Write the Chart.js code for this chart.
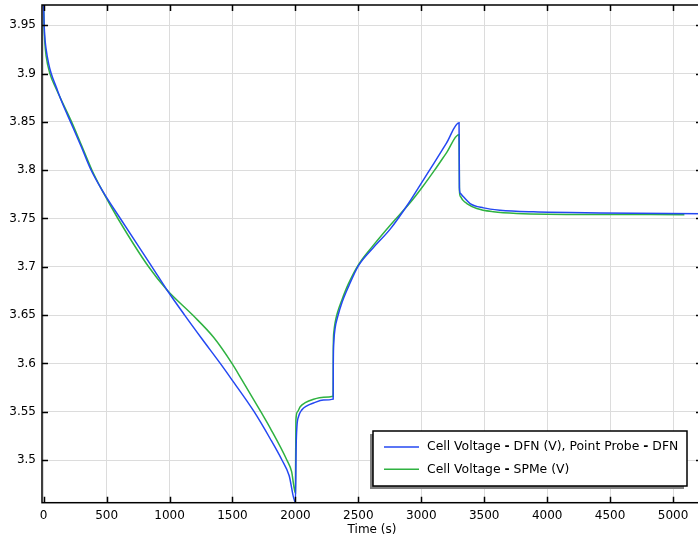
<!DOCTYPE html>
<html>
<head>
<meta charset="utf-8">
<script src="https://cdn.jsdelivr.net/npm/chart.js@4.4.1/dist/chart.umd.min.js"></script>
<style>
html, body { margin: 0; padding: 0; background: #fff; overflow: hidden; }
canvas { display: block; }
</style>
</head>
<body>
<canvas id="voltageChart" width="704" height="539"></canvas>
<script>
// Data
const seriesLabels = ['Cell Voltage - DFN (V), Point Probe - DFN', 'Cell Voltage - SPMe (V)'];
const xTickValues = [0, 500, 1000, 1500, 2000, 2500, 3000, 3500, 4000, 4500, 5000];
const yTickValues = [3.5, 3.55, 3.6, 3.65, 3.7, 3.75, 3.8, 3.85, 3.9, 3.95];

const timeDfn = [0, 3, 8, 20, 40, 60, 100, 150, 217, 300, 370, 464, 609, 861, 980, 1120, 1260, 1403, 1496, 1672, 1800, 1893, 1950, 2000,
  2006, 2012, 2025, 2052, 2091, 2144, 2223, 2300,
  2301, 2305, 2316, 2335, 2370, 2420, 2500, 2620, 2753, 2898, 3017, 3100, 3200, 3300,
  3303, 3310, 3335, 3388, 3494, 3626, 3891, 4420, 5230];
const voltDfn = [3.972, 3.955, 3.94, 3.925, 3.91, 3.9, 3.886, 3.869, 3.849, 3.824, 3.802, 3.7793, 3.75, 3.70, 3.676, 3.65, 3.625, 3.60, 3.583, 3.55, 3.522, 3.50, 3.484, 3.456,
  3.514, 3.5345, 3.545, 3.552, 3.556, 3.559, 3.562, 3.563,
  3.60, 3.622, 3.637, 3.648, 3.663, 3.679, 3.701, 3.72, 3.739, 3.7655, 3.79, 3.807, 3.828, 3.849,
  3.782, 3.776, 3.7724, 3.7655, 3.761, 3.7586, 3.7569, 3.7558, 3.755];

const timeSpme = [0, 3, 8, 20, 50, 100, 150, 222, 300, 384, 464, 590, 834, 980, 1184, 1350, 1496, 1575, 1725, 1800, 1932, 1970, 2000,
  2004, 2017, 2038, 2078, 2144, 2223, 2300,
  2301, 2305, 2315, 2335, 2370, 2420, 2500, 2620, 2753, 2911, 3000, 3100, 3200, 3300,
  3303, 3310, 3330, 3362, 3441, 3573, 3759, 4420, 5090];
const voltSpme = [3.972, 3.952, 3.935, 3.918, 3.9, 3.884, 3.870, 3.85, 3.826, 3.80, 3.7793, 3.75, 3.70, 3.676, 3.65, 3.627, 3.60, 3.583, 3.55, 3.533, 3.50, 3.488, 3.4655,
  3.5414, 3.55, 3.5551, 3.5593, 3.5628, 3.5649, 3.5659,
  3.615, 3.632, 3.642, 3.653, 3.666, 3.682, 3.702, 3.7224, 3.7431, 3.7662, 3.781, 3.799, 3.818, 3.837,
  3.779, 3.773, 3.769, 3.7655, 3.7603, 3.7569, 3.7552, 3.7541, 3.754];

const seriesColors = ['#2448f2', '#2fb241'];
const FONT = 'DejaVu Sans';

function toPoints(xs, ys) {
  return xs.map((x, i) => ({ x: x, y: ys[i] }));
}

// Frame with inward tick marks on all four sides
const framePlugin = {
  id: 'frame',
  afterDatasetsDraw(chart) {
    const c = chart.ctx;
    const a = chart.chartArea;
    const tl = 6;
    c.save();
    c.strokeStyle = '#000';
    c.lineWidth = 1.5;
    c.strokeRect(a.left, a.top, a.right - a.left, a.bottom - a.top);
    c.beginPath();
    chart.scales.x.ticks.forEach(t => {
      const px = Math.round(chart.scales.x.getPixelForValue(t.value)) + 0.5;
      c.moveTo(px, a.bottom); c.lineTo(px, a.bottom - tl);
      c.moveTo(px, a.top); c.lineTo(px, a.top + tl);
    });
    chart.scales.y.ticks.forEach(t => {
      const py = Math.round(chart.scales.y.getPixelForValue(t.value)) + 0.5;
      c.moveTo(a.left, py); c.lineTo(a.left + tl, py);
      c.moveTo(a.right, py); c.lineTo(a.right - tl, py);
    });
    c.stroke();
    c.restore();
  }
};

// Boxed legend with shadow, bottom right of the plot
const legendPlugin = {
  id: 'boxLegend',
  afterDraw(chart) {
    const c = chart.ctx;
    const a = chart.chartArea;
    const normal = '12.4px "' + FONT + '"';
    const bold = 'bold 12.4px "' + FONT + '"';

    // split each label so the dashes can be bold
    const runsFor = label => {
      const parts = label.split(' - ');
      const runs = [];
      parts.forEach((p, i) => {
        if (i > 0) runs.push({ t: ' ', b: false }, { t: '-', b: true }, { t: ' ', b: false });
        runs.push({ t: p, b: false });
      });
      return runs;
    };

    const entries = chart.data.datasets.map(ds => ({ runs: runsFor(ds.label), color: ds.borderColor }));
    const left = 373, right = 687;
    const w = right - left;
    const h = 55;
    const bottom = Math.round(a.bottom - 17);
    const top = bottom - h;

    c.save();
    c.fillStyle = '#808080';
    c.fillRect(left - 3, top + 3, w, h);
    c.fillStyle = '#fff';
    c.fillRect(left, top, w, h);
    c.strokeStyle = '#000';
    c.lineWidth = 1.5;
    c.strokeRect(left, top, w, h);

    entries.forEach((e, i) => {
      const y = top + 16 + i * 22.3;
      c.strokeStyle = e.color;
      c.lineWidth = 1.5;
      c.beginPath();
      c.moveTo(left + 11, y); c.lineTo(left + 46, y);
      c.stroke();
      let x = left + 54;
      c.fillStyle = '#000';
      c.textBaseline = 'middle';
      c.textAlign = 'left';
      e.runs.forEach(r => {
        c.font = r.b ? bold : normal;
        c.fillText(r.t, x, y);
        x += c.measureText(r.t).width;
      });
    });
    c.restore();
  }
};

const chart = new Chart(document.getElementById('voltageChart'), {
  type: 'line',
  data: {
    datasets: [{
      label: seriesLabels[0],
      data: toPoints(timeDfn, voltDfn),
      borderColor: seriesColors[0],
      borderWidth: 1.5,
      pointRadius: 0,
      cubicInterpolationMode: 'monotone',
      fill: false
    }, {
      label: seriesLabels[1],
      data: toPoints(timeSpme, voltSpme),
      borderColor: seriesColors[1],
      borderWidth: 1.5,
      pointRadius: 0,
      cubicInterpolationMode: 'monotone',
      fill: false
    }]
  },
  options: {
    responsive: false,
    devicePixelRatio: 1,
    animation: false,
    layout: { padding: { top: 5, right: 2, left: 0, bottom: 0 } },
    plugins: {
      legend: { display: false },
      tooltip: { enabled: false }
    },
    scales: {
      x: {
        type: 'linear',
        min: -13,
        max: 5230,
        afterBuildTicks: s => { s.ticks = xTickValues.map(v => ({ value: v })); },
        afterFit: s => { s.height = 36.3; s.paddingLeft = 0; s.paddingRight = 0; },
        border: { display: false },
        grid: { color: '#dcdcdc', lineWidth: 1, drawTicks: false },
        ticks: {
          maxRotation: 0,
          autoSkip: false,
          padding: 6,
          color: '#000',
          font: { family: FONT, size: 12 },
          callback: v => String(v)
        },
        title: {
          display: true,
          text: 'Time (s)',
          color: '#000',
          font: { family: FONT, size: 12 },
          padding: { top: 0, bottom: 2 }
        }
      },
      y: {
        type: 'linear',
        min: 3.4558,
        max: 3.971,
        afterBuildTicks: s => { s.ticks = yTickValues.map(v => ({ value: v })); },
        afterFit: s => { s.width = 42; s.paddingTop = 0; s.paddingBottom = 0; },
        border: { display: false },
        grid: { color: '#dcdcdc', lineWidth: 1, drawTicks: false },
        ticks: {
          autoSkip: false,
          padding: 6,
          color: '#000',
          font: { family: FONT, size: 12 },
          callback: v => String(Number(v.toFixed(2)))
        }
      }
    }
  },
  plugins: [framePlugin, legendPlugin]
});
</script>
</body>
</html>
